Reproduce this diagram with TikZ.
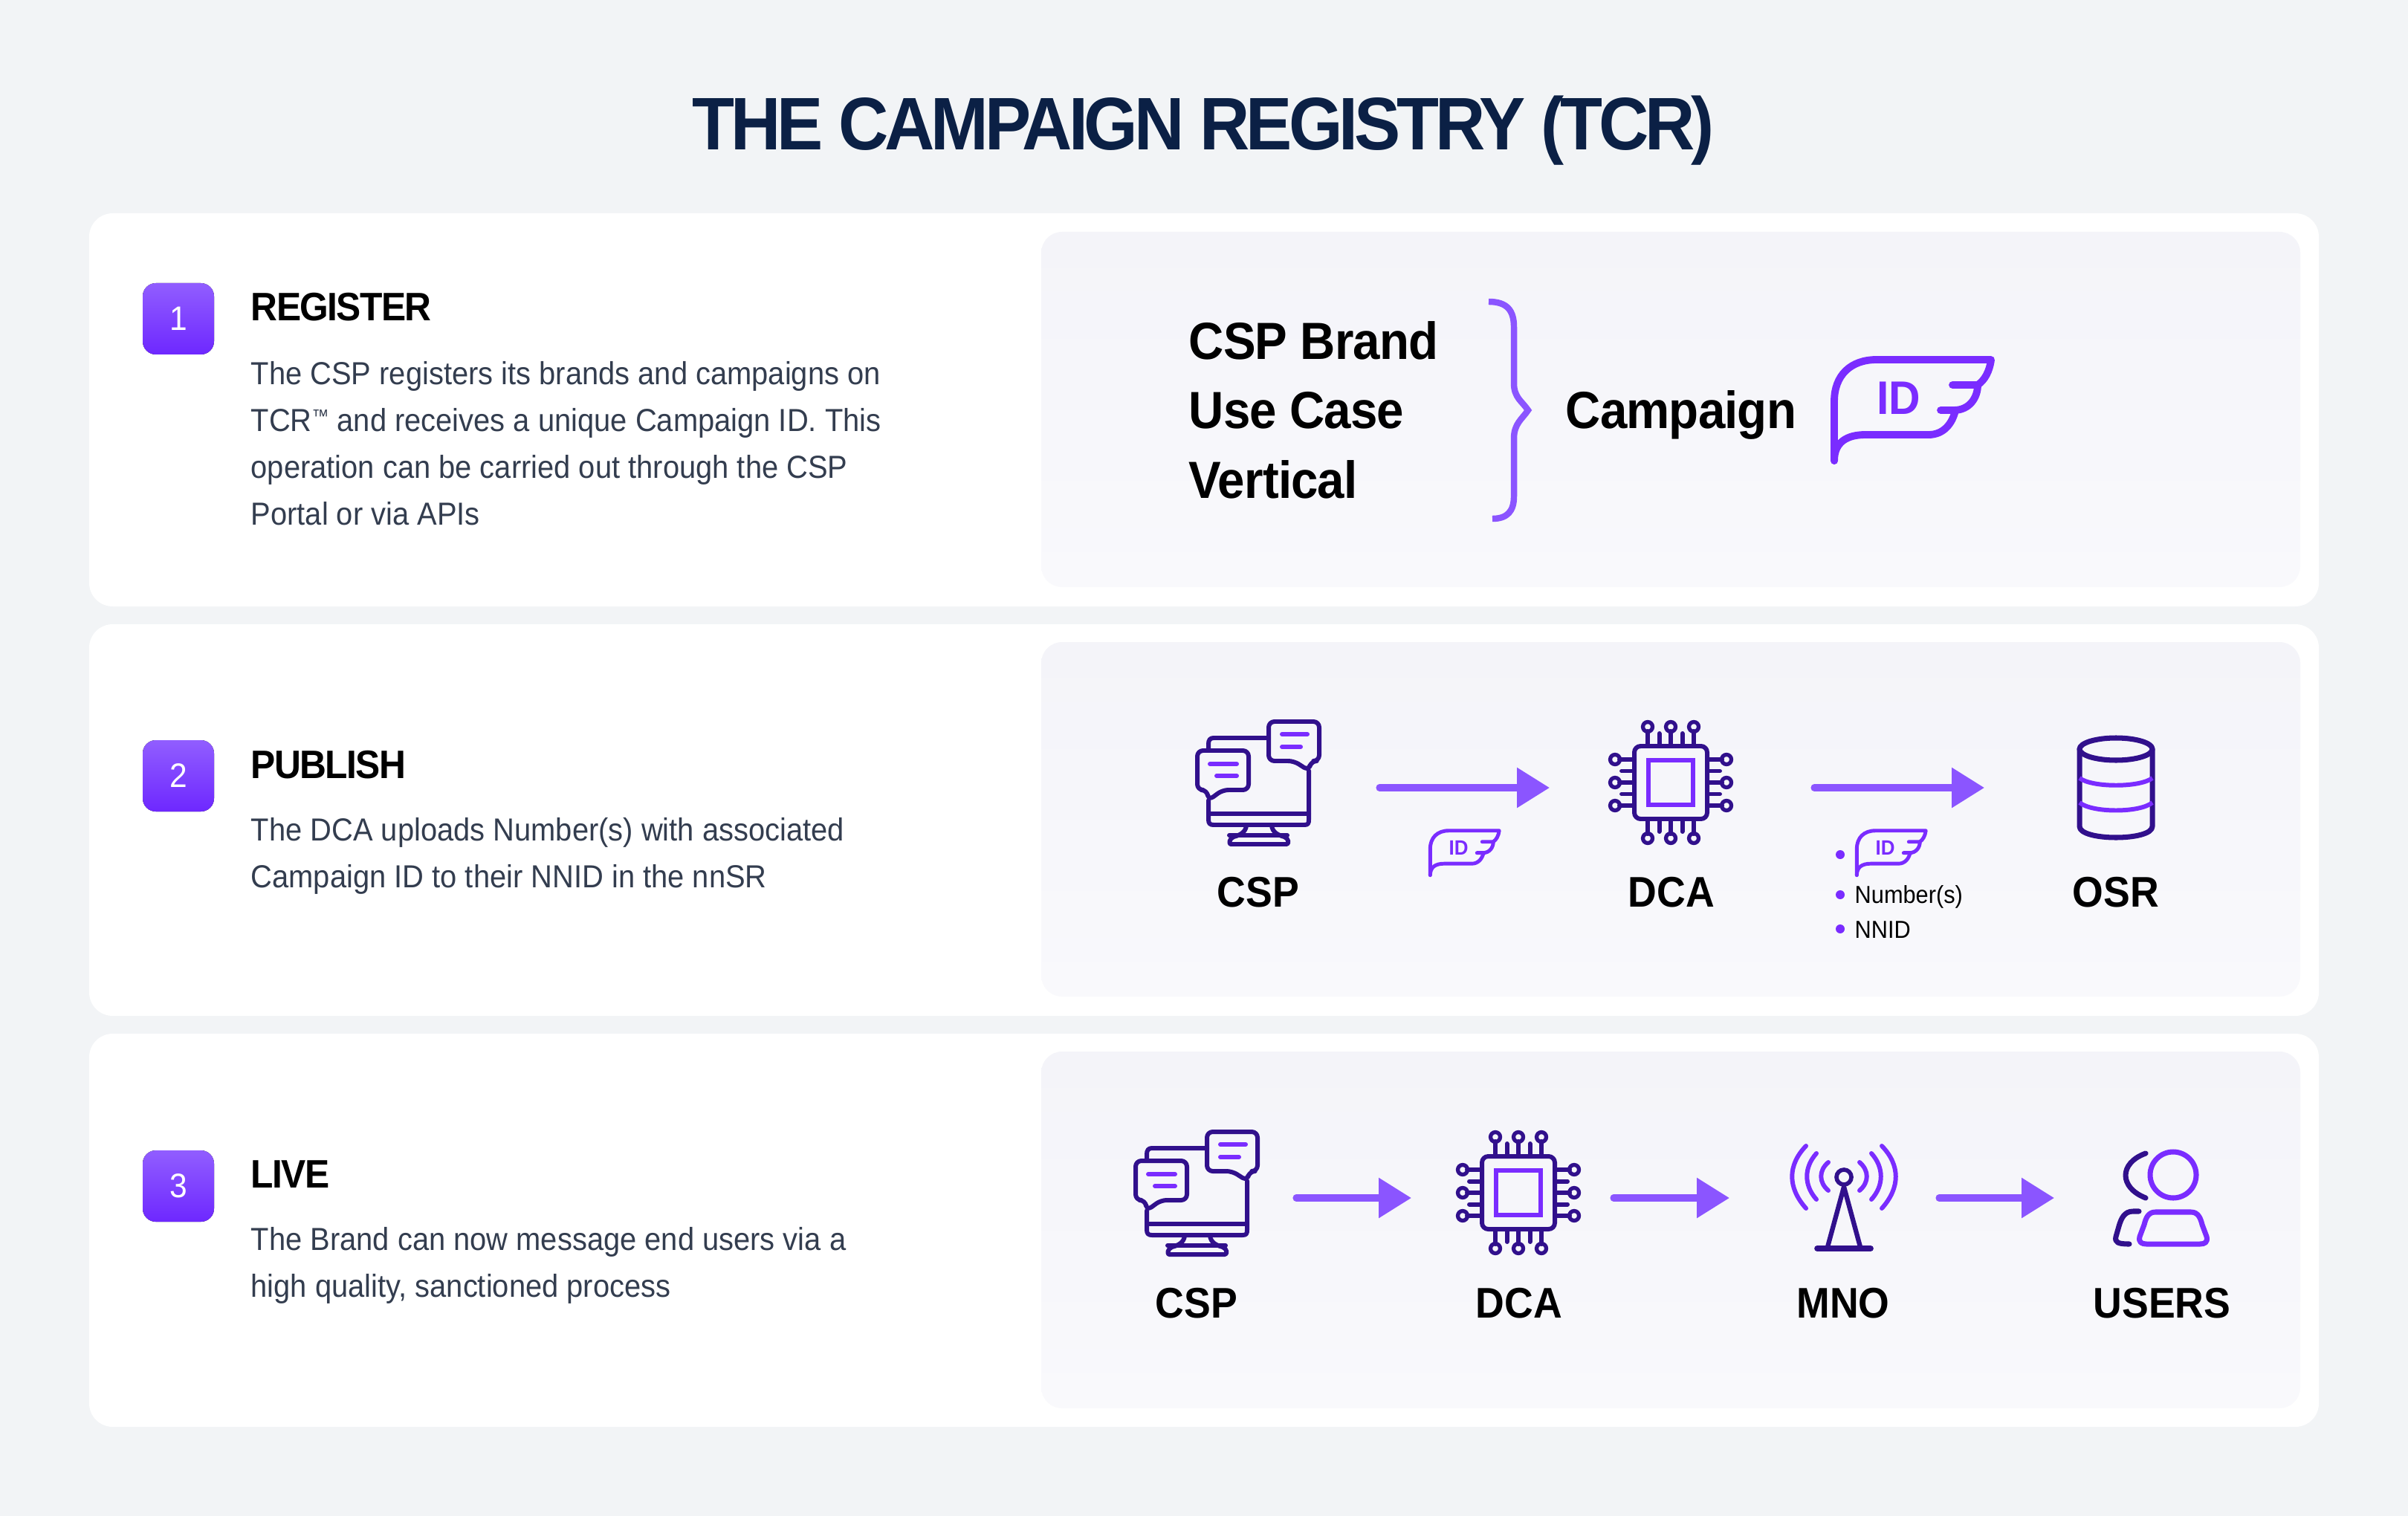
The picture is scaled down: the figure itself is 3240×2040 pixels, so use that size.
\documentclass[tikz,border=0pt]{standalone}
\usepackage{fontspec}
\setmainfont{Liberation Sans}[FakeStretch=0.93]
\newfontfamily\titlefont{Liberation Sans}[FakeStretch=0.93,LetterSpace=-5]
\newfontfamily\headfont{Liberation Sans}[FakeStretch=0.93,LetterSpace=-3]
\newfontfamily\bigfont{Liberation Sans}[FakeStretch=0.93,LetterSpace=-1.2]
\usetikzlibrary{arrows.meta}
\definecolor{pagebg}{HTML}{F2F4F6}
\definecolor{navy}{HTML}{0B2045}
\definecolor{bodygray}{HTML}{333D4F}
\definecolor{iconpurple}{HTML}{7A2CFF}
\definecolor{arrowpurple}{HTML}{8B55FF}
\definecolor{icondark}{HTML}{31108C}
\definecolor{paneltop}{HTML}{F4F4F9}
\definecolor{panelbottom}{HTML}{F9F9FC}
\tikzset{
  heading/.style={anchor=base west,inner sep=0,font=\fontsize{15.2}{18}\headfont\bfseries\selectfont},
  bodytext/.style={anchor=north west,inner sep=0,align=left,text=bodygray,font=\fontsize{12.2}{17.9}\selectfont},
  iconlabel/.style={anchor=base,inner sep=0,font=\fontsize{16.4}{20}\bfseries\selectfont},
  biglabel/.style={anchor=base west,inner sep=0,font=\fontsize{20}{24}\bigfont\bfseries\selectfont},
  smalllabel/.style={anchor=base west,inner sep=0,font=\fontsize{9.4}{11}\selectfont},
  badge/.style={rounded corners=5pt,top color=arrowpurple!95!white,bottom color=iconpurple!90!blue},
  darkline/.style={draw=icondark,line width=1.7pt,line cap=round,line join=round},
  purpleline/.style={draw=iconpurple,line width=1.7pt,line cap=round,line join=round},
  flow/.style={draw=arrowpurple,line width=2.6pt,line cap=round,-{Triangle[length=12.5pt,width=14.8pt]}},
  wing/.pic={
    \draw[draw=iconpurple,line cap=round,line join=round]
      (3,140) -- (3,60) .. controls (3,25) and (25,4) .. (60,4) -- (214,4)
      .. controls (212,20) and (205,32) .. (196,38);
    \draw[draw=iconpurple,line cap=round,line join=round]
      (162,38) -- (196,38) .. controls (196,55) and (185,72) .. (164,72) -- (146,72);
    \draw[draw=iconpurple,line cap=round,line join=round]
      (166,72) .. controls (162,90) and (150,105) .. (130,105) -- (45,105)
      .. controls (20,105) and (3,115) .. (3,140);
    \node[inner sep=0,text=iconpurple,font=\fontsize{18}{20}\bfseries\selectfont] (-id) at (90,56) {ID};
  },
  monitor/.pic={
    \draw[darkline] (66,79) -- (66,71) .. controls (66,66) and (68,63) .. (73,63) -- (147,63);
    \draw[darkline] (66,147) -- (66,173) .. controls (66,178) and (68,180) .. (73,180) -- (195,180) .. controls (200,180) and (201,178) .. (201,173) -- (201,107);
    \draw[darkline] (66,165) -- (201,165);
    \draw[darkline] (117,181) .. controls (116,190) and (108,194) .. (100,196) .. controls (94,198) and (93,206) .. (96,206) -- (171,206) .. controls (175,206) and (174,198) .. (168,196) .. controls (160,194) and (152,190) .. (151,181);
    \draw[darkline] (94,194) -- (172,194);
    \draw[darkline,rounded corners=2.2pt] (181,94) -- (147,94) -- (147,41) -- (215,41) -- (215,94) -- (204,94) -- (201,107) -- cycle;
    \draw[darkline,rounded corners=2.2pt] (85,133) -- (120,133) -- (120,80) -- (51,80) -- (51,133) -- (64,133) -- (66,147) -- cycle;
    \draw[purpleline] (165,58) -- (199,58);
    \draw[purpleline] (165,75) -- (190,75);
    \draw[purpleline] (68,98) -- (104,98);
    \draw[purpleline] (77,114) -- (104,114);
  },
  chip/.pic={
    \draw[darkline,rounded corners=2.4pt] (-49,-49) rectangle (49,49);
    \draw[draw=iconpurple,line width=1.7pt] (-30,-30) rectangle (30,30);
    \foreach \p in {-31,0,31} {
      \draw[darkline] (\p,-49) -- (\p,-69);
      \draw[darkline] (\p,49) -- (\p,69);
      \draw[darkline] (-49,\p) -- (-69,\p);
      \draw[darkline] (49,\p) -- (69,\p);
      \draw[darkline,line width=1.5pt] (\p,-75) circle (6.5);
      \draw[darkline,line width=1.5pt] (\p,75) circle (6.5);
      \draw[darkline,line width=1.5pt] (-75,\p) circle (6.5);
      \draw[darkline,line width=1.5pt] (75,\p) circle (6.5);
    }
    \foreach \p in {-15.5,15.5} {
      \draw[darkline] (\p,-49) -- (\p,-66);
      \draw[darkline] (\p,49) -- (\p,66);
      \draw[darkline] (-49,\p) -- (-66,\p);
      \draw[darkline] (49,\p) -- (66,\p);
    }
  },
}
\begin{document}
\begin{tikzpicture}[x=0.01cm,y=-0.01cm]
\fill[pagebg] (0,0) rectangle (3240,2040);
\node[anchor=base,inner sep=0,text=navy] (title) at (1619,202) {\fontsize{28.5}{32}\titlefont\bfseries THE CAMPAIGN REGISTRY (TCR)};

% cards
\foreach \top/\bot in {287/816,840/1367,1391/1920}
  \fill[white,rounded corners=9pt] (120,\top) rectangle (3120,\bot);
\foreach \top/\bot in {312/790,864/1341,1415/1895}
  \path[rounded corners=8pt,top color=paneltop,bottom color=panelbottom] (1401,\top) rectangle (3095,\bot);

% left column
\foreach \n/\y in {1/381,2/996,3/1548} {
  \fill[badge] (192,\y) rectangle (288,\y+96);
  \node[text=white,inner sep=0,font=\fontsize{13}{15}\selectfont] (badge\n) at (240,\y+48) {\n};
}
\node[heading] (register) at (337,432) {REGISTER};
\node[bodytext] (registertext) at (337,486) {The CSP registers its brands and campaigns on\\TCR\raisebox{3.6pt}{\fontsize{7}{7}\selectfont ™} and receives a unique Campaign ID. This\\operation can be carried out through the CSP\\Portal or via APIs};
\node[heading] (publish) at (337,1047) {PUBLISH};
\node[bodytext] (publishtext) at (337,1100) {The DCA uploads Number(s) with associated\\Campaign ID to their NNID in the nnSR};
\node[heading] (live) at (337,1598) {LIVE};
\node[bodytext] (livetext) at (337,1651) {The Brand can now message end users via a\\high quality, sanctioned process};

% row 1
\node[biglabel] (brand) at (1599,484) {CSP Brand};
\node[biglabel] (usecase) at (1599,577) {Use Case};
\node[biglabel] (vertical) at (1599,670) {Vertical};
\draw[draw=arrowpurple,line width=2.4pt] (2003,406) .. controls (2028,406) and (2037,418) .. (2037,440) -- (2037,516) .. controls (2037,535) and (2048,540) .. (2056,552) .. controls (2048,564) and (2037,570) .. (2037,590) -- (2037,668) .. controls (2037,688) and (2028,698) .. (2008,698);
\node[biglabel] (campaign) at (2106,577) {Campaign};
\pic[line width=2.8pt] (bigid) at (2465,480) {wing};

% row 2
\pic (csptwo) at (1560,930) {monitor};
\node[iconlabel] (csptwolabel) at (1693,1220) {CSP};
\coordinate (csptwoout) at (1856,1060);
\pic (dcatwo) at (2248,1053) {chip};
\node[iconlabel] (dcatwolabel) at (2249,1220) {DCA};
\coordinate (dcatwoin) at (2085,1060);
\coordinate (dcatwoout) at (2441,1060);
\coordinate (osrin) at (2670,1060);
\draw[flow] (csptwoout) -- (dcatwoin);
\draw[flow] (dcatwoout) -- (osrin);
\pic[scale=0.44,transform shape,line width=1.4pt] (smallid) at (1923,1116) {wing};
\pic[scale=0.44,transform shape,line width=1.4pt] (listid) at (2497,1116) {wing};
\foreach \y in {1150,1204,1250}
  \fill[iconpurple] (2476,\y) circle (6);
\node[smalllabel] (numbers) at (2495,1215) {Number(s)};
\node[smalllabel] (nnid) at (2495,1262) {NNID};
\draw[darkline,line width=2pt] (2847,1008) ellipse (49 and 15);
\draw[darkline,line width=2pt] (2798,1008) -- (2798,1112) .. controls (2798,1132) and (2896,1132) .. (2896,1112) -- (2896,1008);
\draw[purpleline,line cap=butt] (2798,1047) .. controls (2815,1060) and (2879,1060) .. (2896,1047);
\draw[purpleline,line cap=butt] (2798,1080) .. controls (2815,1094) and (2879,1094) .. (2896,1080);
\node[iconlabel] (osr) at (2847,1220) {OSR};

% row 3
\pic (cspthree) at (1477,1482) {monitor};
\node[iconlabel] (cspthreelabel) at (1610,1773) {CSP};
\pic (dcathree) at (2043,1605) {chip};
\node[iconlabel] (dcathreelabel) at (2044,1773) {DCA};
\coordinate (cspthreeout) at (1744,1612);
\coordinate (dcathreein) at (1899,1612);
\coordinate (dcathreeout) at (2171,1612);
\coordinate (mnoin) at (2327,1612);
\coordinate (mnoout) at (2609,1612);
\coordinate (usersin) at (2764,1612);
\draw[flow] (cspthreeout) -- (dcathreein);
\draw[flow] (dcathreeout) -- (mnoin);
\draw[flow] (mnoout) -- (usersin);
% antenna
\foreach \s in {-1,1} {
  \draw[purpleline] (2481+\s*21,1564) .. controls (2481+\s*34,1575) and (2481+\s*34,1591) .. (2481+\s*21,1602);
  \draw[purpleline] (2481+\s*37,1552) .. controls (2481+\s*54,1571) and (2481+\s*54,1595) .. (2481+\s*37,1614);
  \draw[purpleline] (2481+\s*51,1542) .. controls (2481+\s*76,1568) and (2481+\s*76,1598) .. (2481+\s*51,1626);
}
\draw[draw=icondark,line width=1.6pt] (2481,1584) circle (10);
\draw[darkline,line width=1.8pt,line cap=butt] (2459,1678) -- (2481,1597) -- (2503,1678);
\draw[darkline,line width=2.2pt] (2445,1680) -- (2517,1680);
\node[iconlabel] (mno) at (2480,1773) {MNO};
% users
\draw[draw=iconpurple,line width=2pt] (2924,1581) circle (31);
\draw[draw=iconpurple,line width=2pt,line join=round] (2900,1631) -- (2948,1631) .. controls (2958,1631) and (2961,1640) .. (2963,1648) -- (2969,1664) .. controls (2971,1672) and (2966,1674) .. (2960,1674) -- (2888,1674) .. controls (2882,1674) and (2877,1672) .. (2879,1664) -- (2885,1648) .. controls (2887,1640) and (2890,1631) .. (2900,1631) -- cycle;
\draw[darkline,line width=2pt] (2887,1552) .. controls (2851,1565) and (2851,1598) .. (2887,1612);
\draw[darkline,line width=2pt] (2878,1630) -- (2870,1630) .. controls (2858,1630) and (2854,1640) .. (2851,1650) -- (2847,1664) .. controls (2845,1672) and (2850,1674) .. (2865,1674);
\node[iconlabel] (users) at (2909,1773) {USERS};
\end{tikzpicture}
\end{document}
